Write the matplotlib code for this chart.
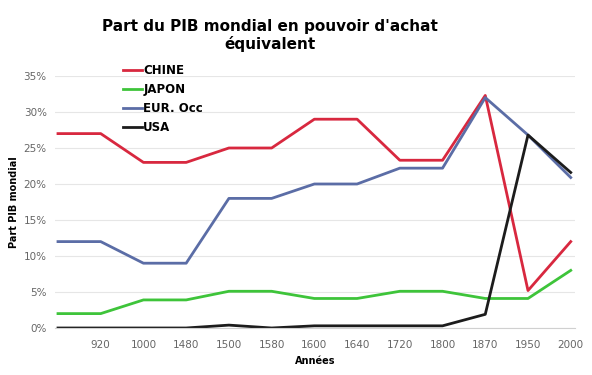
import matplotlib.pyplot as plt
from matplotlib.ticker import PercentFormatter

# categories (first one has no label on the original)
annees = ['', '920', '1000', '1480', '1500', '1580', '1600', '1640',
          '1720', '1800', '1870', '1950', '2000']

# parts du PIB mondial, en %
chine = [27, 27, 23, 23, 25, 25, 29, 29, 23.3, 23.3, 32.3, 5.2, 12]
japon = [2, 2, 3.9, 3.9, 5.1, 5.1, 4.1, 4.1, 5.1, 5.1, 4.1, 4.1, 8]
eur_occ = [12, 12, 9, 9, 18, 18, 20, 20, 22.2, 22.2, 32, 26.8, 20.9]
usa = [0, 0, 0, 0, 0.4, 0, 0.3, 0.3, 0.3, 0.3, 1.9, 26.8, 21.6]

x = range(len(annees))

fig = plt.figure(figsize=(5.92, 3.75), dpi=100)
ax = fig.add_axes([55 / 592, 1 - 328 / 375, 520 / 592, 252 / 375])

ax.plot(x, chine, color='#d8283f', lw=2, label='CHINE')
ax.plot(x, japon, color='#3ec43a', lw=2, label='JAPON')
ax.plot(x, eur_occ, color='#5b6da6', lw=2, label='EUR. Occ')
ax.plot(x, usa, color='#1c1c1c', lw=2, label='USA')

ax.set_ylim(0, 35)
ax.set_xlim(-0.07, 12.1)
ax.set_yticks(range(0, 36, 5))
ax.yaxis.set_major_formatter(PercentFormatter(decimals=0))
ax.set_xticks(list(x))
ax.set_xticklabels(annees)
ax.tick_params(length=0, labelsize=7.5, colors='#666666')
ax.tick_params(axis='x', pad=9)
ax.tick_params(axis='y', pad=6)

ax.grid(axis='y', color='#e6e6e6', lw=0.8)
ax.set_axisbelow(True)
for s in ['top', 'right', 'left']:
    ax.spines[s].set_visible(False)
ax.spines['bottom'].set_color('#d0d0d0')

ax.set_xlabel('Années', fontsize=7, fontweight='bold', labelpad=4)
ax.set_ylabel('Part PIB mondial', fontsize=7, fontweight='bold', labelpad=3)

fig.text(0.456, 0.905, "Part du PIB mondial en pouvoir d'achat\néquivalent",
         ha='center', va='center', fontsize=11, fontweight='bold',
         linespacing=1.2)

leg = ax.legend(loc='upper left', bbox_to_anchor=(0.122, 1.065), frameon=False,
                fontsize=8.5, handlelength=1.6, handletextpad=0.1,
                labelspacing=0.5, borderaxespad=0)
for t in leg.get_texts():
    t.set_fontweight('bold')

fig.savefig('out.png', dpi=100, facecolor='white')
